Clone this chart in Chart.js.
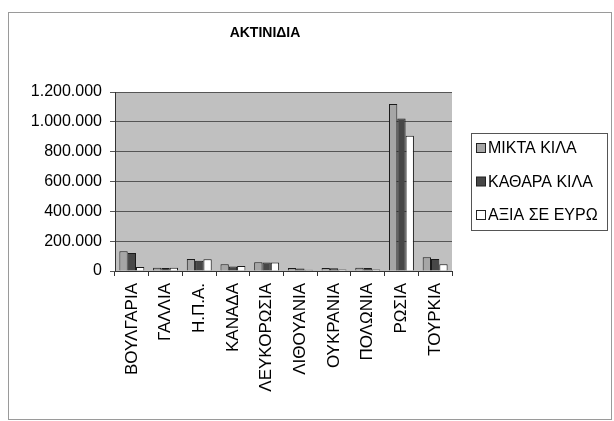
<!DOCTYPE html>
<html>
<head>
<meta charset="utf-8">
<script src="https://cdn.jsdelivr.net/npm/chart.js@4/dist/chart.umd.min.js"></script>
<style>
  html, body { margin: 0; padding: 0; background: #fff; }
  #wrap { width: 614px; height: 421px; }
</style>
</head>
<body>
<div id="wrap"><canvas id="kiwiChart" width="614" height="421"></canvas></div>
<script>
// Chart data
const chartTitle = 'ΑΚΤΙΝΙΔΙΑ';
const countries = ['ΒΟΥΛΓΑΡΙΑ', 'ΓΑΛΛΙΑ', 'Η.Π.Α.', 'ΚΑΝΑΔΑ', 'ΛΕΥΚΟΡΩΣΙΑ', 'ΛΙΘΟΥΑΝΙΑ', 'ΟΥΚΡΑΝΙΑ', 'ΠΟΛΩΝΙΑ', 'ΡΩΣΙΑ', 'ΤΟΥΡΚΙΑ'];
const seriesNames = ['ΜΙΚΤΑ ΚΙΛΑ', 'ΚΑΘΑΡΑ ΚΙΛΑ', 'ΑΞΙΑ ΣΕ ΕΥΡΩ'];
const grossKg = [132000, 22000, 80000, 46000, 58000, 20000, 20000, 22000, 1119000, 93000];
const netKg = [120000, 20000, 69000, 31000, 57000, 17000, 18000, 20000, 1023000, 80000];
const valueEur = [26000, 22000, 78000, 33000, 57000, 8000, 10000, 10000, 906000, 46000];
const yTicks = [0, 200000, 400000, 600000, 800000, 1000000, 1200000];

const seriesColors = ['#a6a6a6', '#474747', '#ffffff'];
const FONT = 'Arial, "Liberation Sans", sans-serif';

// number format with dots as thousands separator
function fmt(v) {
   return String(v).replace(/\B(?=(\d{3})+(?!\d))/g, '.');
}

// frame, gray plot area, title and boxed legend
const decorPlugin = {
   id: 'decor',
   beforeDraw(chart) {
      const ctx = chart.ctx;
      const a = chart.chartArea;
      ctx.save();
      ctx.fillStyle = '#fff';
      ctx.fillRect(0, 0, chart.width, chart.height);
      ctx.strokeStyle = '#9a9a9a';
      ctx.lineWidth = 1;
      ctx.strokeRect(8.5, 12.5, 603, 407);
      ctx.fillStyle = '#c0c0c0';
      ctx.fillRect(a.left, a.top, a.right - a.left, a.bottom - a.top);
      ctx.restore();
   },
   afterDraw(chart) {
      const ctx = chart.ctx;
      ctx.save();
      // title
      ctx.fillStyle = '#000';
      ctx.font = 'bold 14px ' + FONT;
      ctx.textAlign = 'center';
      ctx.textBaseline = 'middle';
      ctx.fillText(chartTitle, 265, 33);
      // legend
      ctx.strokeStyle = '#555';
      ctx.lineWidth = 1;
      ctx.strokeRect(471.5, 133.5, 136, 97);
      ctx.font = '16px ' + FONT;
      ctx.textAlign = 'left';
      chart.data.datasets.forEach((ds, i) => {
         const y = 148 + i * 33.5;
         ctx.fillStyle = ds.backgroundColor;
         ctx.fillRect(476.5, y - 4.5, 9, 9);
         ctx.strokeStyle = '#222';
         ctx.strokeRect(476.5, y - 4.5, 9, 9);
         ctx.fillStyle = '#000';
         ctx.fillText(ds.label, 488, y + 1);
      });
      ctx.restore();
   }
};

new Chart(document.getElementById('kiwiChart').getContext('2d'), {
   type: 'bar',
   data: {
      labels: countries,
      datasets: [grossKg, netKg, valueEur].map((d, i) => ({
         label: seriesNames[i],
         data: d,
         backgroundColor: seriesColors[i],
         borderColor: '#1a1a1a',
         borderWidth: 1,
         barPercentage: 1.0,
         categoryPercentage: 0.74
      }))
   },
   options: {
      responsive: false,
      animation: false,
      layout: {
         padding: { left: 8, top: 92, right: 162, bottom: 0 }
      },
      plugins: {
         legend: { display: false },
         title: { display: false },
         tooltip: { enabled: false }
      },
      scales: {
         x: {
            afterFit: (s) => { s.height = 150; },
            grid: {
               offset: true,
               drawOnChartArea: false,
               drawTicks: true,
               tickLength: 5,
               color: '#333'
            },
            border: { color: '#333', width: 1 },
            ticks: {
               minRotation: 90,
               maxRotation: 90,
               autoSkip: false,
               padding: 7,
               color: '#000',
               font: { family: FONT, size: 17 }
            }
         },
         y: {
            min: 0,
            max: 1200000,
            afterFit: (s) => { s.width = 107; },
            afterBuildTicks: (s) => { s.ticks = yTicks.map(v => ({ value: v })); },
            grid: {
               color: '#555',
               lineWidth: 1,
               drawTicks: true,
               tickLength: 5
            },
            border: { color: '#333', width: 1 },
            ticks: {
               padding: 8,
               color: '#000',
               font: { family: FONT, size: 16 },
               callback: (v) => fmt(v)
            }
         }
      }
   },
   plugins: [decorPlugin]
});
</script>
</body>
</html>
